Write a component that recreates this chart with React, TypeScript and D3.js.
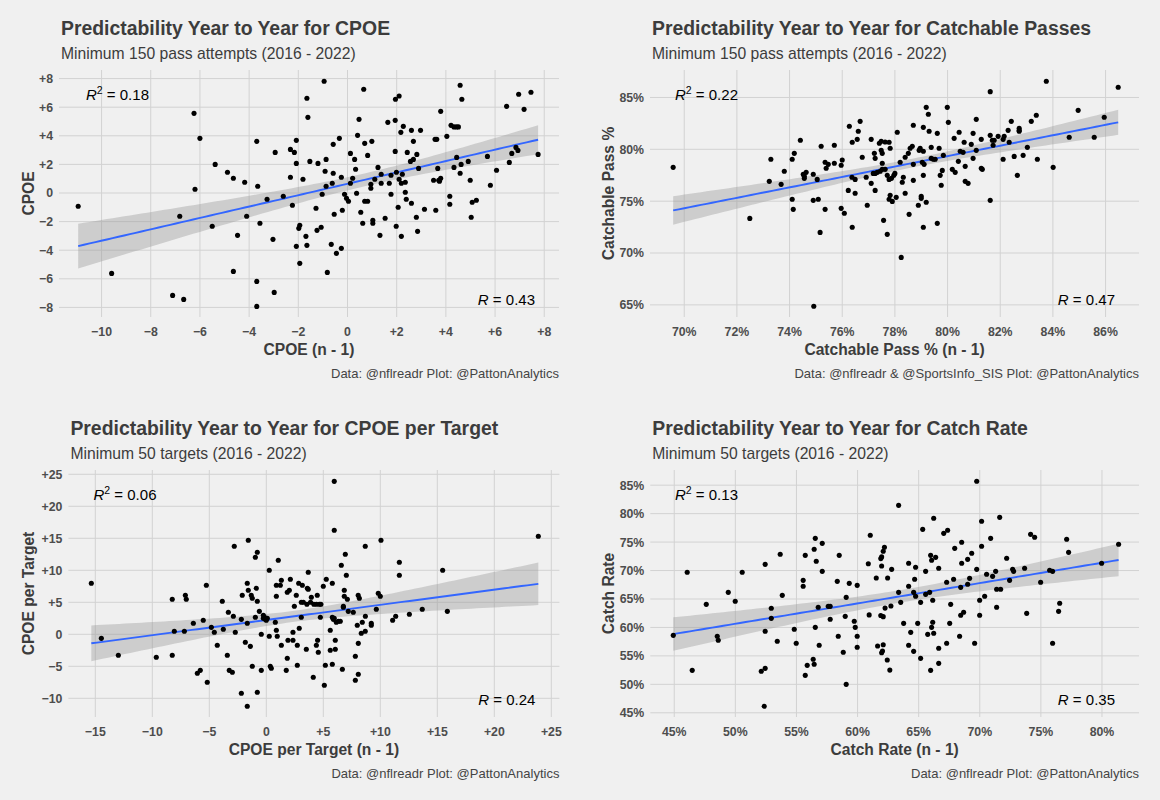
import React from 'react';
import * as d3 from 'd3';

// ---------- DATA ----------
// [previous season, current season]
const cpoePoints: [number, number][] = [
  [-10.95,-0.93],[-6.24,5.57],[-6.0,3.82],[-6.2,0.26],[-5.38,2.0],[-4.88,1.45],[-4.64,1.03],[-4.18,0.75],[-3.69,3.61],[-3.65,0.47],
  [-3.27,-0.44],[-2.94,2.84],[-2.61,-0.23],[-2.32,3.05],[-2.16,2.84],[-2.08,3.68],[-2.08,2.07],[-2.32,1.1],[-2.24,-0.86],[-6.82,-1.63],
  [-5.5,-2.33],[-4.47,-2.96],[-4.1,-1.63],[-3.56,-2.12],[-3.03,-3.24],[-9.59,-5.62],[-7.11,-7.16],[-6.66,-7.44],[-4.64,-5.48],[-3.69,-6.18],
  [-2.98,-6.95],[-3.69,-7.93],[-2.08,-3.73],
  [-0.95,7.81],[0.66,7.25],[-1.65,6.62],[1.95,6.55],[2.1,6.78],[4.58,7.53],[4.65,6.55],[6.96,6.9],[7.46,7.04],[6.47,6.06],
  [7.18,5.85],[-1.61,5.29],[3.79,5.71],[0.47,5.15],[1.64,4.94],[1.94,5.08],[2.27,4.66],[2.17,4.24],[2.6,4.38],[2.97,4.38],
  [4.21,4.73],[4.33,4.62],[4.43,4.62],[4.51,4.62],[0.41,4.03],[-0.33,3.82],[-0.58,3.4],[0.99,3.61],[0.7,3.47],[3.56,3.75],
  [3.63,3.75],[4.04,3.96],[2.68,3.61],
  [1.94,2.91],[2.43,2.84],[2.82,2.7],[2.68,2.35],[2.56,2.21],[0.12,2.77],[0.82,2.63],[0.29,2.35],[-1.53,2.21],[-1.2,2.07],
  [-0.87,2.35],[5.69,2.56],[4.91,2.21],[4.44,2.49],[4.62,2.0],[4.33,1.79],[3.67,1.72],[2.89,1.72],[6.58,2.14],[6.68,2.77],
  [6.85,3.19],[6.93,2.98],[7.75,2.7],[6.06,1.59],[5.81,0.54],[4.99,0.89],[4.58,1.38],[3.5,0.89],[3.71,0.89],[3.79,1.03],
  [3.74,0.82],
  [0.33,1.66],[-0.91,1.52],[-0.58,1.38],[-0.25,1.1],[0.21,1.03],[1.24,1.79],[1.37,1.31],[1.77,1.24],[1.99,1.45],[2.23,1.31],
  [2.1,0.96],[2.19,0.68],[2.35,0.75],[1.11,0.96],[0.95,0.61],[0.95,0.33],[1.37,0.68],[1.7,0.68],[-1.81,0.96],[-0.87,0.47],
  [-0.62,0.68],[0.12,0.68],
  [-1.03,-0.09],[0.37,-0.02],[-0.12,-0.09],[-0.04,-0.37],[0.04,-0.58],[1.77,-0.09],[2.35,0.05],[2.39,-0.44],[2.6,-0.72],[0.7,-0.58],
  [0.82,-0.58],[2.06,-1.0],[3.13,-1.14],[3.59,-1.21],[4.16,-0.23],[4.16,-0.79],[5.07,-0.65],[5.24,-0.51],[5.03,-1.7],
  [-1.28,-1.07],[-0.54,-1.49],[-0.21,-1.21],[0.54,-1.35],[0.62,-2.12],[1.03,-1.91],[1.03,-2.12],[1.53,-1.77],[1.98,-2.33],[2.19,-3.03],
  [2.8,-1.7],[2.85,-2.68],[1.32,-2.96],[-1.24,-2.61],[-1.07,-2.4],[-1.69,-3.03],[-1.65,-3.66],[-1.94,-4.92],[-1.94,-2.26],[-1.98,-2.47],
  [-0.66,-3.59],[-0.45,-4.22],[-0.25,-3.87],[-0.82,-5.55],
];

const catchablePoints: [number, number][] = [
  [69.58,78.26],[72.49,73.34],[73.29,79.04],[73.23,76.91],[73.68,76.62],[73.8,77.88],[74.1,79.04],[74.18,79.61],[74.41,80.87],[74.1,75.18],
  [74.14,74.21],[74.52,77.59],[74.56,77.2],[74.63,77.78],[74.56,77.4],[74.9,77.59],[75.05,77.1],[75.2,80.29],[74.9,75.08],[75.09,75.18],
  [75.16,71.99],[75.35,74.21],[75.35,78.75],[75.39,78.17],[75.47,78.55],[75.7,80.39],[75.7,78.65],[74.92,64.86],[75.96,78.46],[76.0,78.97],
  [75.96,74.31],[76.08,73.83],[76.27,82.22],[76.38,80.68],[76.57,80.96],[76.61,81.74],[76.68,82.7],[76.23,76.04],[76.37,77.3],[76.49,77.1],
  [76.38,72.48],[76.49,75.76],[76.76,79.23],[76.91,77.3],[76.95,74.6],[77.1,80.96],[77.22,79.61],[77.25,79.13],[77.1,76.72],[77.25,76.04],
  [77.18,77.68],[77.25,77.68],[77.33,77.78],[77.41,80.58],[77.48,80.77],[77.44,77.88],[77.52,78.07],[77.48,79.9],[77.52,79.61],[77.63,80.71],
  [77.78,80.68],[77.52,78.65],[77.57,73.15],[77.63,78.07],[77.71,77.49],[77.78,77.1],[77.71,71.8],[77.82,80.1],[77.82,75.56],[77.78,75.18],
  [77.9,74.98],[78.05,75.37],[78.09,81.64],[78.0,77.68],[77.96,77.49],[77.87,77.2],[78.2,78.75],
  [78.32,77.3],[78.28,76.82],[78.39,75.76],[78.54,73.73],[78.24,69.58],[78.39,79.23],[78.51,79.61],[78.58,80.1],[78.66,80.29],[78.7,82.32],
  [78.7,78.55],[78.7,77.01],[78.89,74.6],[79.0,75.47],[79.0,75.27],[79.08,77.49],[79.08,72.48],[79.19,74.89],[79.11,78.55],[79.04,78.75],
  [78.92,79.9],[78.96,80.1],[79.08,79.81],[79.08,82.12],[79.19,84.05],[79.27,83.38],[79.3,81.74],[79.38,80.19],[79.38,79.13],[79.46,79.04],
  [79.53,79.04],[79.61,81.54],[79.68,80.1],[79.61,72.86],[79.72,77.49],[79.76,76.53],[79.8,77.97],[79.84,79.42],[79.99,84.05],[80.03,82.6],
  [80.18,78.07],[80.25,81.06],[80.29,77.78],[80.41,78.84],[80.44,81.64],[80.48,79.81],[80.59,79.71],[80.63,80.68],[80.67,78.36],[80.67,76.91],
  [80.78,76.72],[80.9,80.48],[80.97,81.54],[80.97,79.13],[81.09,82.89],[81.09,79.9],[81.28,80.96],[81.28,78.17],[81.32,78.07],[81.62,85.56],
  [81.62,81.35],[81.62,75.08],[81.7,80.87],[81.73,80.39],[81.77,80.87],[81.92,81.25],[82.11,79.04],[82.11,80.96],[82.15,81.25],[82.3,81.83],
  [82.34,80.68],[82.42,82.7],[82.53,79.32],[82.65,77.49],[82.72,82.03],[82.72,81.83],[82.72,81.74],[82.87,79.42],[83.03,80.19],[83.18,82.7],
  [83.37,83.28],[83.41,79.04],[83.75,86.56],[84.01,78.26],[84.62,81.16],[84.96,83.76],[85.57,81.16],[85.95,83.09],[86.48,85.98],
];

const cpoeTargetPoints: [number, number][] = [
  [-15.35,7.97],[-14.47,-0.63],[-12.98,-3.28],[-9.65,-3.59],[-8.25,-3.28],[-8.25,5.47],[-8.07,0.47],[-7.19,0.47],[-7.1,6.09],[-7.02,5.47],
  [-6.4,1.72],[-6.05,-6.09],[-5.79,-5.63],[-5.53,2.19],[-5.26,7.66],[-5.18,-7.5],[-4.82,1.09],[-4.56,0.31],[-4.3,-1.72],[-3.86,5.16],
  [-3.77,0.78],[-3.42,-3.28],[-3.33,3.44],[-3.25,-5.63],[-2.98,-5.94],[-2.89,2.81],[-2.81,13.75],[-2.72,0.31],[-2.19,2.34],[-2.11,6.09],
  [-2.19,-9.22],[-1.84,-1.25],[-1.67,7.97],[-1.58,6.88],[-1.58,14.69],[-1.67,-11.25],[-1.67,1.72],[-1.4,-1.88],[-1.32,6.09],[-1.23,5.63],
  [-1.23,-5.0],[-0.96,12.03],[-0.79,12.81],[-0.96,2.66],[-0.88,7.19],[-0.79,5.16],[-0.79,-9.06],[-0.61,3.59],[-0.44,0.0],[-0.44,-5.63],
  [-0.26,2.97],[-0.26,2.5],[-0.09,2.34],[0.0,2.19],[0.09,2.5],[-0.15,2.66],
  [0.26,10.0],[0.26,-0.31],[0.35,-5.0],[0.44,-5.31],[0.79,1.88],[0.88,7.66],[1.23,7.66],[0.88,5.94],[0.88,0.63],[0.96,-0.31],
  [1.05,11.56],[1.32,8.44],[1.32,-1.72],[1.75,-5.63],[1.84,-3.75],[1.84,6.56],[2.02,6.88],[2.11,8.59],[1.9,-0.94],[2.34,-0.94],
  [2.34,0.31],[2.46,4.38],[2.63,6.09],[2.72,-1.72],[2.72,-4.84],[2.89,0.94],[2.84,7.97],[3.16,7.66],[3.07,5.0],[3.25,5.0],
  [3.51,-2.34],
  [5.96,23.9],[5.96,16.25],[10.06,14.69],[8.68,13.75],[6.93,12.5],[6.58,10.78],[7.02,9.22],[11.67,11.25],[11.67,9.22],[15.47,10.0],
  [23.86,15.31],[3.68,9.69],[5.26,8.59],[5.0,7.5],[5.79,7.97],[3.6,7.19],[3.68,7.03],[6.84,6.88],
  [3.56,4.7],[3.88,5.0],[3.95,5.78],[4.17,4.7],[4.4,4.7],[4.66,4.7],[4.79,4.7],[4.47,6.09],
  [6.84,5.94],[7.11,5.47],[8.06,6.09],[8.16,5.63],[9.82,6.41],[10.0,5.94],[6.76,4.38],[6.76,4.22],[7.19,3.59],[7.63,3.44],
  [9.65,3.91],[13.68,3.91],[15.88,3.59],[12.55,3.13],[11.35,2.81],[11.08,2.19],
  [5.79,2.66],[5.96,2.5],[5.88,2.34],[6.14,1.88],[6.49,2.03],[6.32,2.03],
  [4.74,2.66],[8.69,2.81],[8.42,1.88],[7.98,1.41],[9.21,1.72],[9.21,1.41],[8.68,0.47],[8.33,0.16],[5.61,0.63],[3.07,2.66],
  [4.5,-0.94],[4.39,-1.72],[4.56,-2.81],[6.05,-0.94],[5.61,-2.5],[6.05,-2.34],[8.07,-1.41],[7.81,-3.44],[5.18,-4.84],[5.79,-4.69],
  [4.12,-6.72],[5.09,-7.97],[6.67,-5.47],[8.07,-6.25],[7.81,-7.19],
];

const catchRatePoints: [number, number][] = [
  [44.92,58.61],[46.06,69.69],[46.47,52.46],[47.62,64.06],[48.52,58.44],[48.6,57.74],[49.42,66.17],[49.99,64.59],[50.56,69.69],[52.44,71.09],
  [52.12,52.29],[52.44,52.81],[52.36,46.14],[52.44,59.32],[52.94,63.36],[52.94,61.6],[53.43,57.56],[53.67,72.85],[53.84,65.64],[54.82,59.67],
  [54.98,57.21],[55.55,68.28],[55.55,67.23],[55.72,72.67],[55.72,51.58],[55.88,53.34],[56.37,54.4],[56.45,53.52],[56.45,73.73],[56.54,75.66],
  [56.62,71.62],[56.54,60.02],[56.78,63.54],[56.86,56.86],[57.11,74.78],[57.11,69.86],[57.76,63.71],[57.6,63.71],[57.76,61.43],[58.34,68.1],
  [58.5,72.67],[58.42,58.44],[58.83,55.63],[59.07,50.0],[58.99,61.95],[59.07,65.29],[59.32,67.75],[59.73,61.08],[59.81,60.02],[59.97,58.44],
  [59.97,56.51],[59.97,67.4],
  [60.88,71.2],[61.04,76.19],[60.95,62.2],[61.53,68.7],[61.64,56.74],[61.9,72.1],[61.97,72.4],[62.1,73.4],[62.2,74.1],[61.97,70.8],
  [61.9,62.1],[62.1,61.9],[62.1,56.97],[61.97,55.56],[62.04,55.85],[62.25,63.4],[62.43,54.28],[62.46,68.7],[62.64,52.5],
  [62.73,63.77],[62.79,70.21],
  [69.75,85.68],[63.36,81.46],[66.23,79.18],[65.33,77.24],[67.05,76.54],[67.37,77.07],[70.15,78.65],[71.63,79.35],[74.16,76.36],[74.49,75.84],
  [77.11,75.49],[77.27,73.2],[81.36,74.61],[79.97,71.27],[68.52,74.96],[67.95,73.9],[70.15,74.26],[70.89,75.66],[69.34,73.03],[69.01,71.97],
  [68.52,71.27],[72.2,72.15],[65.98,72.67],[66.06,71.8],[66.39,72.32],[64.18,71.27],[64.75,70.57],[65.57,69.86],[66.64,70.39],[67.86,68.46],
  [69.75,70.21],[70.56,69.34],[71.05,68.98],[71.3,69.86],[72.69,70.21],[72.77,69.86],[73.67,70.39],[75.72,70.04],[75.96,69.86],[74.98,67.93],
  [72.44,68.28],[69.17,68.63],[69.01,67.58],[64.67,68.46],[67.29,67.93],[64.18,67.23],[68.44,67.05],[71.38,66.7],[71.71,66.7],[63.36,66.17],
  [64.59,66.17],[64.75,65.47],[65.9,66.17],[65.57,65.82],[66.15,64.77],[65.16,64.41],[67.62,64.06],[70.4,65.47],[69.99,64.77],[71.38,63.54],
  [73.84,62.48],[76.45,62.83],[76.54,64.24],[75.96,57.21],[68.44,62.13],[68.68,62.66],[69.99,62.13],[63.77,60.72],[64.92,60.72],[67.54,60.72],
  [64.35,59.14],[66.15,60.9],[66.06,60.02],[65.74,58.79],[66.23,58.97],[68.35,58.44],[69.58,57.21],[64.18,56.86],[64.59,55.8],[66.64,56.33],
  [67.29,57.21],[65.16,54.57],[65.98,52.46],[66.64,53.69],[63.53,64.41],
];

// tick values
const cpoeXTicks = [-10, -8, -6, -4, -2, 0, 2, 4, 6, 8];
const cpoeYTicks = [-8, -6, -4, -2, 0, 2, 4, 6, 8];
const catchableXTicks = [70, 72, 74, 76, 78, 80, 82, 84, 86];
const catchableYTicks = [65, 70, 75, 80, 85];
const cpoeTargetXTicks = [-15, -10, -5, 0, 5, 10, 15, 20, 25];
const cpoeTargetYTicks = [-10, -5, 0, 5, 10, 15, 20, 25];
const catchRateXTicks = [45, 50, 55, 60, 65, 70, 75, 80];
const catchRateYTicks = [45, 50, 55, 60, 65, 70, 75, 80, 85];

// text
const titles = [
  'Predictability Year to Year for CPOE',
  'Predictability Year to Year for Catchable Passes',
  'Predictability Year to Year for CPOE per Target',
  'Predictability Year to Year for Catch Rate',
];
const subtitles = [
  'Minimum 150 pass attempts (2016 - 2022)',
  'Minimum 150 pass attempts (2016 - 2022)',
  'Minimum 50 targets (2016 - 2022)',
  'Minimum 50 targets (2016 - 2022)',
];
const xTitles = ['CPOE (n - 1)', 'Catchable Pass % (n - 1)', 'CPOE per Target (n - 1)', 'Catch Rate (n - 1)'];
const yTitles = ['CPOE', 'Catchable Pass %', 'CPOE per Target', 'Catch Rate'];
const captions = [
  'Data: @nflreadr Plot: @PattonAnalytics',
  'Data: @nflreadr & @SportsInfo_SIS Plot: @PattonAnalytics',
  'Data: @nflreadr Plot: @PattonAnalytics',
  'Data: @nflreadr Plot: @PattonAnalytics',
];
const r2Values = ['0.18', '0.22', '0.06', '0.13'];
const rValues = ['0.43', '0.47', '0.24', '0.35'];

// ---------- helpers ----------
const signed = (v: number) => (v > 0 ? `+${v}` : v < 0 ? `\u2212${Math.abs(v)}` : '0');
const pct = (v: number) => `${v}%`;

function fitLm(points: [number, number][]) {
  const n = points.length;
  const mx = d3.mean(points, (d) => d[0])!;
  const my = d3.mean(points, (d) => d[1])!;
  const sxx = d3.sum(points, (d) => (d[0] - mx) ** 2);
  const sxy = d3.sum(points, (d) => (d[0] - mx) * (d[1] - my));
  const b = sxy / sxx;
  const a = my - b * mx;
  const sse = d3.sum(points, (d) => (d[1] - a - b * d[0]) ** 2);
  const s = Math.sqrt(sse / (n - 2));
  const t = 1.96 + 2.4 / (n - 2);
  const [x0, x1] = d3.extent(points, (d) => d[0]) as [number, number];
  const xs = d3.range(0, 81).map((i) => x0 + ((x1 - x0) * i) / 80);
  return xs.map((x) => {
    const yh = a + b * x;
    const se = s * Math.sqrt(1 / n + (x - mx) ** 2 / sxx);
    return { x, y: yh, lo: yh - t * se, hi: yh + t * se };
  });
}

type Spec = {
  idx: number;
  points: [number, number][];
  xTicks: number[];
  yTicks: number[];
  fx: (v: number) => string;
  fy: (v: number) => string;
  xDomain: [number, number];
  yDomain: [number, number];
  left: number;
  right: number;
  top: number;
  bottom: number;
  yTitleX: number;
  r2X: number;
};

const FONT = '"Liberation Sans", Arial, Helvetica, sans-serif';
const DARK = '#3C3C3C';

function Panel({ s }: { s: Spec }) {
  const x = d3.scaleLinear().domain(s.xDomain).range([s.left, s.right]);
  const y = d3.scaleLinear().domain(s.yDomain).range([s.bottom, s.top]);
  const fit = fitLm(s.points);
  const area = d3
    .area<{ x: number; lo: number; hi: number }>()
    .x((d) => x(d.x))
    .y0((d) => y(d.lo))
    .y1((d) => y(d.hi));
  const line = d3
    .line<{ x: number; y: number }>()
    .x((d) => x(d.x))
    .y((d) => y(d.y));
  const cx = (s.left + s.right) / 2;
  const cy = (s.top + s.bottom) / 2;
  const titleY = s.top - 35;
  return (
    <g fontFamily={FONT}>
      {/* grid */}
      {s.yTicks.map((t) => (
        <line key={'gy' + t} x1={s.left} x2={s.right} y1={y(t)} y2={y(t)} stroke="#D2D2D2" strokeWidth={1} />
      ))}
      {s.xTicks.map((t) => (
        <line key={'gx' + t} x1={x(t)} x2={x(t)} y1={s.top} y2={s.bottom} stroke="#D2D2D2" strokeWidth={1} />
      ))}
      {/* tick labels */}
      {s.yTicks.map((t) => (
        <text key={'ly' + t} x={s.left - 6} y={y(t)} dy="0.36em" textAnchor="end" fontSize={12.3} fontWeight="bold" fill="#4D4D4D">
          {s.fy(t)}
        </text>
      ))}
      {s.xTicks.map((t) => (
        <text key={'lx' + t} x={x(t)} y={s.bottom + 19} textAnchor="middle" fontSize={12.3} fontWeight="bold" fill="#4D4D4D">
          {s.fx(t)}
        </text>
      ))}
      {/* smooth */}
      <path d={area(fit) || ''} fill="#999999" fillOpacity={0.4} />
      <path d={line(fit) || ''} fill="none" stroke="#3366FF" strokeWidth={1.9} />
      {/* points */}
      {s.points.map((p, i) => (
        <circle key={i} cx={x(p[0])} cy={y(p[1])} r={2.55} fill="#000" />
      ))}
      {/* annotations */}
      <text x={s.r2X} y={s.top + 30} fontSize={15} fill="#000">
        <tspan fontStyle="italic">R</tspan>
        <tspan dy={-6} fontSize={10.5}>2</tspan>
        <tspan dy={6}>{` = ${r2Values[s.idx]}`}</tspan>
      </text>
      <text x={s.right - 24} y={s.top + 235} textAnchor="end" fontSize={15} fill="#000">
        <tspan fontStyle="italic">R</tspan>
        <tspan>{` = ${rValues[s.idx]}`}</tspan>
      </text>
      {/* titles */}
      <text x={s.left + 2} y={titleY} fontSize={19.4} fontWeight="bold" fill={DARK}>
        {titles[s.idx]}
      </text>
      <text x={s.left + 2} y={titleY + 24.3} fontSize={15.7} fill={DARK}>
        {subtitles[s.idx]}
      </text>
      <text x={cx} y={s.bottom + 38} textAnchor="middle" fontSize={15.6} fontWeight="bold" fill={DARK}>
        {xTitles[s.idx]}
      </text>
      <text
        transform={`translate(${s.yTitleX},${cy}) rotate(-90)`}
        textAnchor="middle"
        fontSize={15.6}
        fontWeight="bold"
        fill={DARK}
      >
        {yTitles[s.idx]}
      </text>
      <text x={s.right} y={s.bottom + 61} textAnchor="end" fontSize={13} fill="#444">
        {captions[s.idx]}
      </text>
    </g>
  );
}

const specs: Spec[] = [
  {
    idx: 0, points: cpoePoints, xTicks: cpoeXTicks, yTicks: cpoeYTicks, fx: signed, fy: signed,
    xDomain: [-11.73, 8.6], yDomain: [-8.67, 8.6], left: 59, right: 559, top: 70, bottom: 317, yTitleX: 34, r2X: 86,
  },
  {
    idx: 1, points: catchablePoints, xTicks: catchableXTicks, yTicks: catchableYTicks, fx: pct, fy: pct,
    xDomain: [68.7, 87.27], yDomain: [63.83, 87.65], left: 650, right: 1139, top: 70, bottom: 317, yTitleX: 614, r2X: 675,
  },
  {
    idx: 2, points: cpoeTargetPoints, xTicks: cpoeTargetXTicks, yTicks: cpoeTargetYTicks, fx: signed, fy: signed,
    xDomain: [-17.36, 25.71], yDomain: [-12.92, 25.67], left: 68.4, right: 559.4, top: 470, bottom: 717, yTitleX: 34, r2X: 93.5,
  },
  {
    idx: 3, points: catchRatePoints, xTicks: catchRateXTicks, yTicks: catchRateYTicks, fx: pct, fy: pct,
    xDomain: [43.04, 83.03], yDomain: [44.26, 87.67], left: 650.3, right: 1139, top: 470, bottom: 717, yTitleX: 614, r2X: 675,
  },
];

export default function App() {
  return (
    <div style={{ position: 'absolute', left: 0, top: 0 }}>
      <svg width={1160} height={800} style={{ display: 'block' }}>
        <rect x={0} y={0} width={1160} height={800} fill="#F0F0F0" />
        {specs.map((s) => (
          <Panel key={s.idx} s={s} />
        ))}
      </svg>
    </div>
  );
}
